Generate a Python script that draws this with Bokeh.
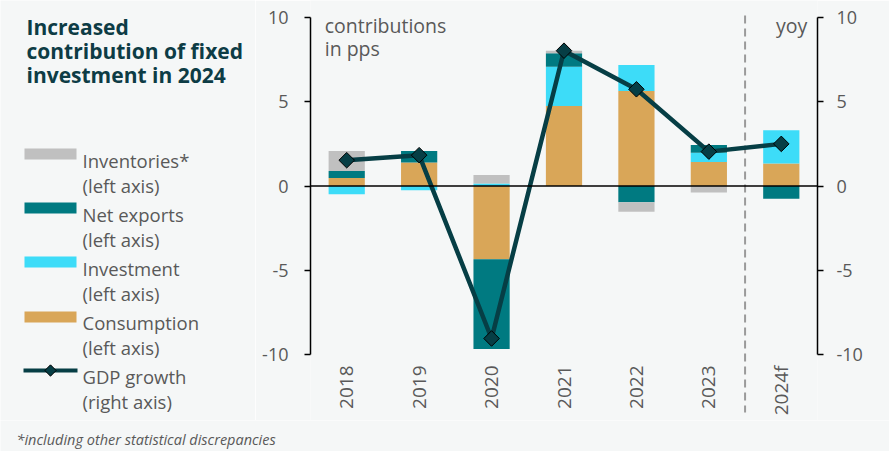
import numpy as np
from bokeh.plotting import figure
from bokeh.layouts import row, column
from bokeh.models import Range1d, LinearAxis, FixedTicker, Span
from bokeh.embed import file_html
from bokeh.resources import INLINE
from bokeh.core.properties import value

# ---------------- data ----------------
years = ["2018", "2019", "2020", "2021", "2022", "2023", "2024f"]
consumption = [0.47, 1.39, -4.35, 4.75, 5.64, 1.42, 1.33]
investment = [-0.49, -0.25, 0.15, 2.33, 1.54, 0.56, 1.98]
net_exports = [0.42, 0.69, -5.33, 0.80, -0.97, 0.45, -0.75]
inventories = [1.19, 0.00, 0.50, 0.14, -0.56, -0.39, 0.00]
gdp_growth = [1.53, 1.83, -9.05, 8.03, 5.74, 2.04, 2.50]
y_ticks = [-10, -5, 0, 5, 10]
y_tick_labels = {-10: "-10", -5: "-5", 0: "0", 5: "5", 10: "10"}

series_names = ["Consumption", "Investment", "Net exports", "Inventories*"]
series_vals = [consumption, investment, net_exports, inventories]
series_cols = ["#d9a658", "#3ddcf8", "#007a81", "#c0c0c0"]

title_lines = ["Increased", "contribution of fixed", "investment in 2024"]
legend_entries = [("Inventories*", "(left axis)"), ("Net exports", "(left axis)"),
                  ("Investment", "(left axis)"), ("Consumption", "(left axis)"),
                  ("GDP growth", "(right axis)")]
legend_cols = [series_cols[3], series_cols[2], series_cols[1], series_cols[0]]
footnote = "*including other statistical discrepancies"

BG = "#f5f7f7"
TXT = "#595959"
TITLE = "#0d3c45"
LINE = "#063e45"
FONT = "Open Sans"

LEFT_W = 255
MAIN_W = 889 - LEFT_W
TOP_H = 420
FOOT_H = 451 - TOP_H

# vertical scale of main chart: y=10 at px 17, y=-10 at px 354
PPU = (354 - 17) / 20.0
Y_TOP = 10 + 17 / PPU
Y_BOT = -10 - (TOP_H - 354) / PPU


def y_at(px):
    return 10 - (px - 17) / PPU


def blank(w, h, xr, yr):
    f = figure(width=w, height=h, x_range=xr, y_range=yr, title=None,
               output_backend="svg", toolbar_location=None,
               x_axis_location=None, y_axis_location=None,
               min_border=0, min_border_left=0, min_border_right=0,
               min_border_top=0, min_border_bottom=0)
    f.background_fill_color = BG
    f.border_fill_color = BG
    f.outline_line_color = None
    f.grid.visible = False
    return f


# ---------------- left panel: title + legend ----------------
lp = blank(LEFT_W, TOP_H, Range1d(0, LEFT_W), Range1d(TOP_H, 0))
lp.text(x=[26] * 3, y=[26, 50, 74], text=title_lines, text_color=TITLE,
        text_font=value(FONT), text_font_size="21px", text_font_style="bold",
        text_baseline="alphabetic")

sw_tops = [148, 202, 256, 311]
lp.quad(left=[24] * 4, right=[76] * 4, top=sw_tops,
        bottom=[t + 11 for t in sw_tops], fill_color=legend_cols,
        line_color=None)
lp.line(x=[23, 77], y=[370, 370], line_color=LINE, line_width=4)
lp.scatter(x=[50], y=[370], marker="square", size=8, angle=np.pi / 4,
           fill_color=LINE, line_color="black", line_width=1)

first_base = [160, 214, 268, 322, 376]
lp.text(x=[82] * 5, y=first_base, text=[e[0] for e in legend_entries],
        text_color=TXT, text_font=value(FONT), text_font_size="18.5px",
        text_baseline="alphabetic")
lp.text(x=[82] * 5, y=[b + 25 for b in first_base],
        text=[e[1] for e in legend_entries], text_color=TXT,
        text_font=value(FONT), text_font_size="18.5px",
        text_baseline="alphabetic")

# ---------------- main chart ----------------
p = figure(width=MAIN_W, height=TOP_H, x_range=years,
           y_range=Range1d(Y_BOT, Y_TOP), title=None, output_backend="svg",
           toolbar_location=None, min_border_left=310 - LEFT_W,
           min_border_right=72, min_border_top=0, min_border_bottom=0)
p.background_fill_color = BG
p.border_fill_color = BG
p.outline_line_color = None
p.grid.visible = False
p.xaxis.visible = False

pos_base = np.zeros(len(years))
neg_base = np.zeros(len(years))
for name, vals, col in zip(series_names, series_vals, series_cols):
    v = np.array(vals, dtype=float)
    bottom = np.where(v >= 0, pos_base, neg_base)
    top = bottom + v
    p.vbar(x=years, top=top, bottom=bottom, width=0.5, fill_color=col,
           line_color=None)
    pos_base = np.where(v >= 0, top, pos_base)
    neg_base = np.where(v < 0, top, neg_base)

p.add_layout(Span(location=0, dimension="width", line_color="black",
                  line_width=1.5))
# forecast divider between 2023 and 2024f
p.segment(x0=[6.0], x1=[6.0], y0=[y_at(15)], y1=[y_at(412)],
          line_color="#9a9a9a", line_width=2, line_dash="8 5")

p.extra_y_ranges = {"right": Range1d(Y_BOT, Y_TOP)}
p.line(x=years, y=gdp_growth, line_color=LINE, line_width=4.5,
       y_range_name="right")
p.scatter(x=years, y=gdp_growth, marker="square", size=11, angle=np.pi / 4,
          fill_color=LINE, line_color="black", line_width=1,
          y_range_name="right")

left_ax = p.yaxis[0]
right_ax = LinearAxis(y_range_name="right")
p.add_layout(right_ax, "right")
for ax in (left_ax, right_ax):
    ax.bounds = (-10, 10)
    ax.ticker = FixedTicker(ticks=y_ticks)
    ax.major_label_overrides = y_tick_labels
    ax.axis_line_color = "black"
    ax.axis_line_width = 1.5
    ax.major_tick_line_color = "black"
    ax.major_tick_line_width = 1.5
    ax.major_tick_out = 6
    ax.major_tick_in = 0
    ax.minor_tick_line_color = None
    ax.major_label_text_color = TXT
    ax.major_label_text_font = FONT
    ax.major_label_text_font_size = "18px"
left_ax.major_label_standoff = 16
right_ax.major_label_standoff = 13

p.text(x=years, y=[y_at(365)] * len(years), text=years, angle=np.pi / 2,
       text_align="right", text_baseline="middle", text_color=TXT,
       text_font=value(FONT), text_font_size="19px")

p.text(x=["2018", "2018"], y=[y_at(25), y_at(48)], x_offset=-22,
       text=["contributions", "in pps"], text_color=TXT,
       text_font=value(FONT), text_font_size="19.5px",
       text_baseline="alphabetic")
p.text(x=["2024f"], y=[y_at(25)], x_offset=26, text=["yoy"], text_color=TXT,
       text_font=value(FONT), text_font_size="19.5px", text_align="right",
       text_baseline="alphabetic")

# ---------------- footnote ----------------
fp = blank(889, FOOT_H, Range1d(0, 889), Range1d(FOOT_H, 0))
fp.text(x=[16], y=[18.5], text=[footnote], text_color=TXT,
        text_font=value(FONT), text_font_size="14.5px",
        text_font_style="italic", text_baseline="middle")

layout = column(row(lp, p, spacing=0), fp, spacing=0)
open("out.html", "w").write(file_html(layout, INLINE))
